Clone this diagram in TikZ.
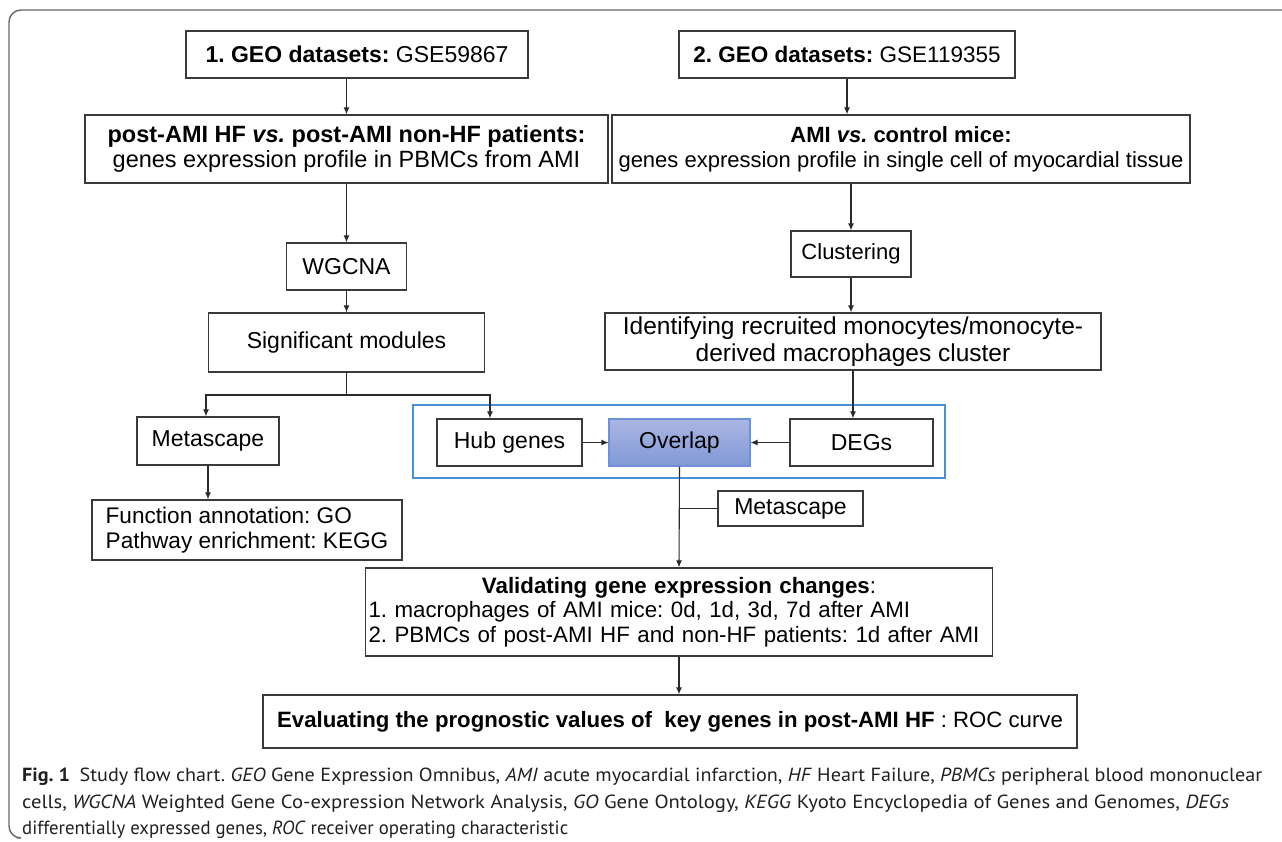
\documentclass[tikz,border=0pt]{standalone}
\usepackage{graphicx}
\usepackage{fontspec}
\setmainfont{Liberation Sans}
\newfontfamily\capfont{PT Sans}
\usetikzlibrary{arrows.meta,calc}
\definecolor{boxline}{HTML}{3A3A3A}
\definecolor{arrline}{HTML}{2A2A2A}
\definecolor{bluef}{HTML}{4A90D6}
\definecolor{ovltop}{HTML}{A9B6E2}
\definecolor{ovlbot}{HTML}{8199D6}
\definecolor{ovlline}{HTML}{6F8FD8}
\definecolor{framec}{HTML}{666666}
\definecolor{captext}{HTML}{231F20}
\newcommand\fsz[2]{\fontsize{#1}{#2}\selectfont}
\frenchspacing
\tikzset{
  box/.style={draw=boxline, line width=1.3pt, inner sep=0pt, align=center, text=black},
  arr/.style={draw=arrline, line width=1.1pt, -{Latex[length=7pt,width=6pt]}},
  ln/.style={draw=arrline, line width=1.1pt},
  capline/.style={anchor=base west, inner sep=0pt, text=captext, font=\capfont\fsz{19}{22}},
}
\begin{document}
\begin{tikzpicture}[x=1pt,y=-1pt]
\useasboundingbox (0,0) rectangle (1282,841);
% outer frame
\draw[framec, line width=1.4pt, rounded corners=12pt] (1282,10) -- (9,10) -- (9,838) -- (17,838);

% top row
\node[box, minimum width=342pt, minimum height=47pt, font=\fsz{23}{26}] (g1) at (357,54.5) {\textbf{1. GEO datasets:} GSE59867};
\node[box, minimum width=336pt, minimum height=47pt, font=\fsz{22.5}{26}] (g2) at (847,54.5) {\textbf{2. GEO datasets:} GSE119355};

\node[box, minimum width=523pt, minimum height=68pt, font=\fsz{23.5}{25}] (post) at (346.5,149) {\textbf{post-AMI HF \textit{vs.} post-AMI non-HF patients:}\\genes expression profile in PBMCs from AMI};
\node[box, minimum width=578pt, minimum height=68pt, font=\fsz{22}{25}] (ami) at (901,149) {\textbf{AMI \textit{vs.} control mice:}\\genes expression profile in single cell of myocardial tissue};

\node[box, minimum width=120pt, minimum height=47pt, font=\fsz{23}{26}] (wgcna) at (346.5,266.5) {WGCNA};
\node[box, minimum width=120pt, minimum height=46pt, font=\fsz{22}{26}] (clus) at (851,254) {Clustering};

\node[box, minimum width=276pt, minimum height=59pt, font=\fsz{23}{26}] (sig) at (346.5,342.5) {Significant modules};
\node[box, minimum width=496pt, minimum height=57pt, font=\fsz{24.5}{27}] (ident) at (853,341.5) {Identifying recruited monocytes/monocyte-\\derived macrophages cluster};

% group frame
\node[draw=bluef, line width=1.2pt, minimum width=532pt, minimum height=73pt, inner sep=0pt] (grp) at (679,441.5) {};

\node[box, minimum width=142pt, minimum height=48pt, font=\fsz{23}{26}] (meta1) at (208,441) {Metascape};
\node[box, minimum width=145pt, minimum height=47pt, font=\fsz{23}{26}] (hub) at (509.5,442.5) {Hub genes};
\node[box, draw=ovlline, line width=1.1pt, top color=ovltop, bottom color=ovlbot, minimum width=141pt, minimum height=47pt, font=\fsz{23}{26}] (ovl) at (679.5,442.5) {Overlap};
\node[box, minimum width=143pt, minimum height=47pt, font=\fsz{23}{26}] (degs) at (861.5,442.5) {DEGs};

\node[box, minimum width=145pt, minimum height=35pt, font=\fsz{23}{26}] (meta2) at (790.5,508.5) {Metascape};
\node[box, minimum width=310pt, minimum height=60pt, font=\fsz{22.6}{25}, align=left] (func) at (247,530) {Function annotation: GO\\Pathway enrichment: KEGG};

\node[box, minimum width=627pt, minimum height=88pt, font=\fsz{22.3}{24.5}, text width=621pt, align=left] (valid) at (679,612) {\makebox[621pt][c]{\textbf{Validating gene expression changes}:}\\\mbox{1. macrophages of AMI mice: 0d, 1d, 3d, 7d after AMI}\\\mbox{2. PBMCs of post-AMI HF and non-HF patients: 1d after AMI}};

\node[box, minimum width=814pt, minimum height=53pt, font=\fsz{22.2}{26}] (eval) at (670,721.5) {\textbf{Evaluating the prognostic values of \ key genes in post-AMI HF} : ROC curve};

% connectors
\draw[arr] (g1.south -| post.north) -- (post.north);
\draw[arr] (g2.south) -- (g2.south |- ami.north);
\draw[arr] (post.south) -- (wgcna.north);
\draw[arr] (wgcna.south) -- (sig.north);
\draw[arr] (ami.south -| clus.north) -- (clus.north);
\draw[arr] (clus.south) -- (clus.south |- ident.north);
\draw[ln] (sig.south) -- (346.5,395) coordinate (br);
\draw[arr] (br) -| ($(meta1.north)+(-2,0)$);
\draw[arr] (br) -| ($(hub.north)+(-19.5,0)$);
\draw[arr] (meta1.south) -- (meta1.south |- func.north);
\draw[arr] (hub.east) -- (ovl.west);
\draw[arr] (degs.west) -- (ovl.east);
\draw[arr] (ident.south) -- (ident.south |- degs.north);
\draw[arr] (ovl.south) -- (valid.north);
\draw[ln] (meta2.west) -- (meta2.west -| ovl.south);
\draw[arr] (valid.south) -- (valid.south |- eval.north);

% caption
\node[capline] (cap1) at (22,781) {\resizebox{1240pt}{\height}{\textbf{Fig. 1}\hspace{9pt}Study flow chart. \textit{GEO} Gene Expression Omnibus, \textit{AMI} acute myocardial infarction, \textit{HF} Heart Failure, \textit{PBMCs} peripheral blood mononuclear}};
\node[capline] (cap2) at (22,808) {\resizebox{1207pt}{\height}{cells, \textit{WGCNA} Weighted Gene Co-expression Network Analysis, \textit{GO} Gene Ontology, \textit{KEGG} Kyoto Encyclopedia of Genes and Genomes, \textit{DEGs}}};
\node[capline] (cap3) at (22,834) {\resizebox{546pt}{\height}{differentially expressed genes, \textit{ROC} receiver operating characteristic}};
\end{tikzpicture}
\end{document}
